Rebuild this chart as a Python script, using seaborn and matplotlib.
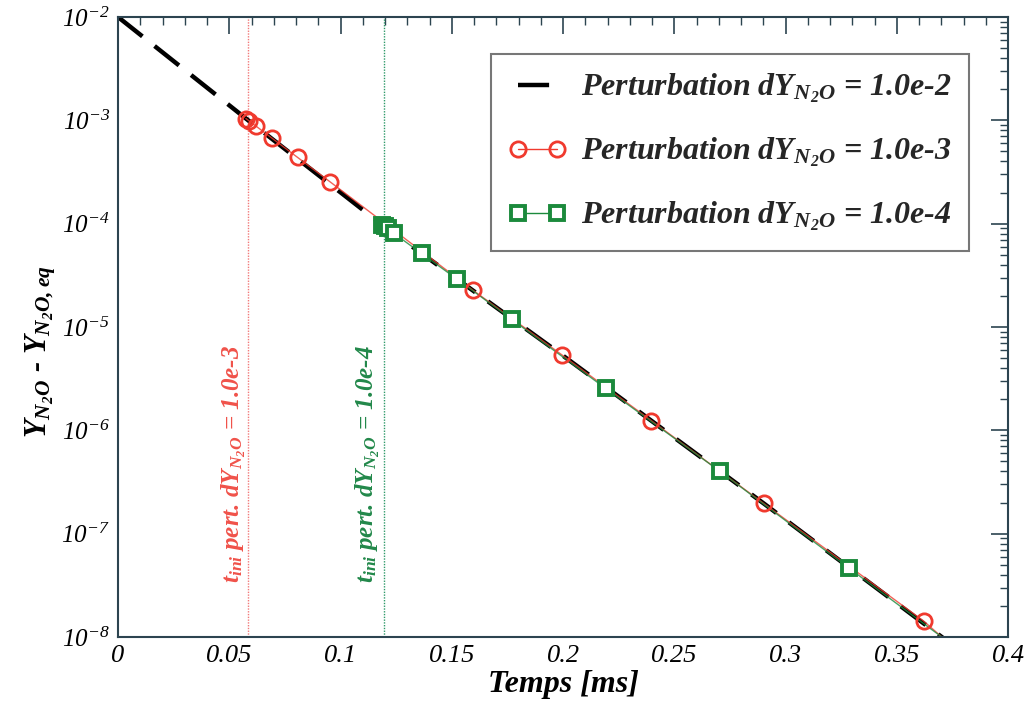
import numpy as np
import pandas as pd
import matplotlib
matplotlib.use("Agg")
import matplotlib.pyplot as plt
from matplotlib.lines import Line2D
from matplotlib.ticker import LogLocator, MultipleLocator, FixedLocator, FuncFormatter
import seaborn as sns

# ---------------- data ----------------
ref_t = [0.0, 0.0575, 0.1188, 0.1996, 0.2902, 0.3702, 0.375]
ref_y = [1.0e-2, 1.04e-3, 9.7e-5, 5.35e-6, 1.96e-7, 1.0e-8, 8.3e-9]

p3_line_t = [0.0575, 0.0952, 0.1595, 0.1996, 0.2397, 0.2902, 0.362, 0.3702, 0.375]
p3_line_y = [1.04e-3, 2.55e-4, 2.27e-5, 5.35e-6, 1.24e-6, 1.96e-7, 1.43e-8, 1.0e-8, 8.3e-9]
p3_t = [0.0575, 0.0590, 0.0622, 0.0691, 0.0810, 0.0952, 0.1595, 0.1996, 0.2397, 0.2902, 0.3620]
p3_y = [1.04e-3, 9.8e-4, 8.8e-4, 6.8e-4, 4.4e-4, 2.55e-4, 2.27e-5, 5.35e-6, 1.24e-6, 1.96e-7, 1.43e-8]

p4_line_t = [0.1188, 0.1525, 0.2191, 0.2704, 0.3283, 0.3702, 0.375]
p4_line_y = [9.7e-5, 2.89e-5, 2.55e-6, 4.03e-7, 4.67e-8, 1.0e-8, 8.3e-9]
p4_t = [0.1188, 0.1200, 0.1212, 0.1240, 0.1368, 0.1525, 0.1772, 0.2191, 0.2704, 0.3283]
p4_y = [9.7e-5, 9.5e-5, 9.1e-5, 8.2e-5, 5.15e-5, 2.89e-5, 1.19e-5, 2.55e-6, 4.03e-7, 4.67e-8]

t_ini = [0.0584, 0.1196]
x_ticks = [0, 0.05, 0.1, 0.15, 0.2, 0.25, 0.3, 0.35, 0.4]
x_tick_labels = ["0", "0.05", "0.1", "0.15", "0.2", "0.25", "0.3", "0.35", "0.4"]
y_ticks = [1e-8, 1e-7, 1e-6, 1e-5, 1e-4, 1e-3, 1e-2]
y_tick_labels = [r"$\mathdefault{10^{-8}}$", r"$\mathdefault{10^{-7}}$", r"$\mathdefault{10^{-6}}$",
                 r"$\mathdefault{10^{-5}}$", r"$\mathdefault{10^{-4}}$", r"$\mathdefault{10^{-3}}$",
                 r"$\mathdefault{10^{-2}}$"]
labels = [r"Perturbation d$\mathdefault{Y_{N_2O}}$ = 1.0e-2",
          r"Perturbation d$\mathdefault{Y_{N_2O}}$ = 1.0e-3",
          r"Perturbation d$\mathdefault{Y_{N_2O}}$ = 1.0e-4"]
vlabels = [r"$\mathdefault{t_{ini}}$ pert. d$\mathdefault{Y_{N_2O}}$ = 1.0e-3",
           r"$\mathdefault{t_{ini}}$ pert. d$\mathdefault{Y_{N_2O}}$ = 1.0e-4"]
xlabel = "Temps [ms]"
ylabel = r"$\mathdefault{Y_{N_2O}}$ - $\mathdefault{Y_{N_2O,eq}}$"

# ---------------- style ----------------
sns.set_style("white")
plt.rcParams["font.family"] = ["Liberation Serif", "DejaVu Serif"]
plt.rcParams["font.style"] = "italic"
plt.rcParams["axes.unicode_minus"] = False

RED = "#f03a2e"
GREEN = "#1b8a3c"
SPINE = "#2c4450"

fig = plt.figure(figsize=(10.29, 7.06), dpi=100)
ax = fig.add_axes([0.1147, 0.0977, 0.8650, 0.8782])

sns.lineplot(x=ref_t, y=ref_y, ax=ax, color="black", linewidth=3.2,
             estimator=None, sort=False, linestyle=(0, (7, 3.5)))
sns.lineplot(x=p3_line_t, y=p3_line_y, ax=ax, color=RED, linewidth=1.0,
             estimator=None, sort=False, alpha=0.8)
sns.lineplot(x=p4_line_t, y=p4_line_y, ax=ax, color=GREEN, linewidth=1.0,
             estimator=None, sort=False, alpha=0.8)
ax.plot(p3_t, p3_y, linestyle="none", marker="o", markersize=11, markerfacecolor="none",
        markeredgecolor=RED, markeredgewidth=2.0, zorder=4)
ax.plot(p4_t, p4_y, linestyle="none", marker="s", markersize=10, markerfacecolor="white",
        markeredgecolor=GREEN, markeredgewidth=2.8, zorder=5)

ax.axvline(t_ini[0], color="#f27a7a", linestyle=(0, (1, 1)), linewidth=1.0, zorder=1)
ax.axvline(t_ini[1], color="#2f9a6a", linestyle=(0, (1, 1)), linewidth=1.0, zorder=1)

ax.text(0.0520, 3.3e-8, vlabels[0], rotation=90, ha="center", va="bottom",
        color="#f0524a", fontsize=18, fontweight="bold")
ax.text(0.1122, 3.3e-8, vlabels[1], rotation=90, ha="center", va="bottom",
        color="#22884a", fontsize=18, fontweight="bold")

ax.set_yscale("log")
ax.set_xlim(0, 0.4)
ax.set_ylim(1e-8, 1e-2)
ax.xaxis.set_major_locator(FixedLocator(x_ticks))
ax.set_xticklabels(x_tick_labels)
ax.xaxis.set_minor_locator(MultipleLocator(0.01))
ax.yaxis.set_major_locator(FixedLocator(y_ticks))
ax.set_yticklabels(y_tick_labels)
ax.yaxis.set_minor_locator(LogLocator(base=10, subs=np.arange(2, 10)))
ax.yaxis.set_minor_formatter(FuncFormatter(lambda v, p: ""))

ax.tick_params(which="both", direction="in", top=True, right=True, color=SPINE,
               labelcolor="black")
ax.tick_params(axis="x", labelsize=19, pad=6)
ax.tick_params(axis="y", labelsize=18, pad=6)
ax.tick_params(which="major", length=12, width=1.2)
ax.tick_params(which="minor", length=6, width=1.0)
for s in ax.spines.values():
    s.set_color(SPINE)
    s.set_linewidth(1.5)

ax.set_xlabel(xlabel, fontsize=23, fontweight="bold", labelpad=2, color="black")
ax.set_ylabel(ylabel, fontsize=22, fontweight="bold", color="black")
ax.yaxis.set_label_coords(-0.068, 0.46)

handles = [
    Line2D([], [], color="black", linewidth=3.2, linestyle=(0, (7, 3.5))),
    Line2D([], [], color=RED, linewidth=1.0, marker="o", markersize=11, markerfacecolor="none",
           markeredgecolor=RED, markeredgewidth=2.0),
    Line2D([], [], color=GREEN, linewidth=1.0, marker="s", markersize=10, markerfacecolor="white",
           markeredgecolor=GREEN, markeredgewidth=2.8),
]
leg = ax.legend(handles, labels, loc="upper right", bbox_to_anchor=(0.956, 0.940),
                prop={"size": 23, "weight": "bold", "style": "italic"},
                frameon=True, fancybox=False, numpoints=2, handlelength=1.8,
                labelspacing=0.95, borderpad=0.55, handletextpad=0.45, borderaxespad=0)
leg.get_frame().set_edgecolor("#555555")
leg.get_frame().set_linewidth(1.5)

fig.savefig("out.png", dpi=100)
